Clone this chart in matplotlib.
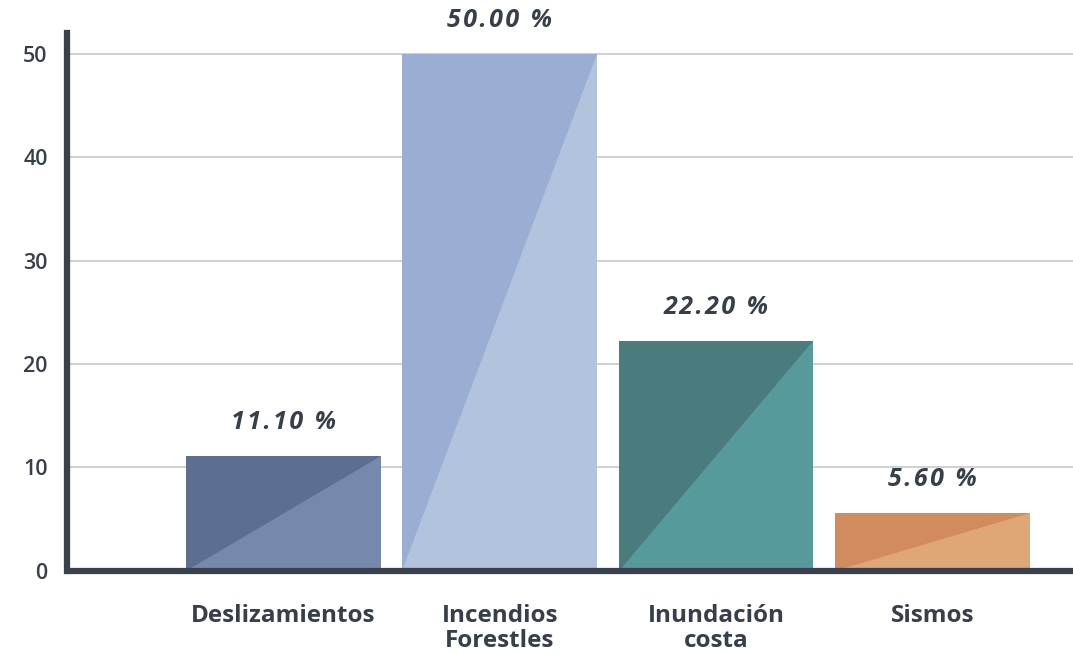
import matplotlib
matplotlib.use("Agg")
import matplotlib.pyplot as plt
import numpy as np

categories = ["Deslizamientos", "Incendios\nForestles", "Inundación\ncosta", "Sismos"]
values = [11.10, 50.00, 22.20, 5.60]
dark_colors = ["#5D6F91", "#9AAED4", "#4A7C7E", "#D28B5E"]
light_colors = ["#7689AC", "#B2C3DE", "#579A9C", "#DFA775"]
yticks = [0, 10, 20, 30, 40, 50]

text_color = "#373F4A"
axis_color = "#3A414C"

plt.rcParams["font.family"] = ["Open Sans", "DejaVu Sans"]


def tracked(s):
    # widen the letter spacing with hair spaces
    return "\u200a".join(s)


fig = plt.figure(figsize=(10.73, 6.54), dpi=100)
ax = fig.add_axes([0.0624, 0.1272, 0.9376, 0.8223])

x = np.arange(len(values))
bars = ax.bar(x, values, width=0.9, color=light_colors, zorder=2)

# darker upper-left triangle on each bar
for b, c in zip(bars, dark_colors):
    x0, x1 = b.get_x(), b.get_x() + b.get_width()
    h = b.get_height()
    ax.fill([x0, x0, x1], [0, h, h], color=c, lw=0, zorder=3)

ax.bar_label(bars, labels=[tracked("%.2f %%" % v) for v in values], padding=15,
             fontsize=18, fontweight="bold", fontstyle="italic", color=text_color)

ax.set_xlim(-1, 3.65)
ax.set_ylim(0, 52)
ax.set_yticks(yticks)
ax.set_xticks(x)
ax.set_xticklabels(categories, fontsize=17.5, fontweight="bold",
                   color=text_color, linespacing=1.05)
for t in ax.get_yticklabels():
    t.set_fontsize(15.5)
    t.set_fontweight("semibold")
    t.set_color(text_color)
ax.tick_params(axis="both", length=0)
ax.tick_params(axis="y", pad=14)
ax.tick_params(axis="x", pad=24)

ax.yaxis.grid(True, color="#C8C8C8", lw=1.2, zorder=0)
ax.set_axisbelow(True)

for s in ["top", "right"]:
    ax.spines[s].set_visible(False)
for s in ["left", "bottom"]:
    ax.spines[s].set_color(axis_color)
    ax.spines[s].set_linewidth(4.5)
    ax.spines[s].set_zorder(5)
ax.spines["bottom"].set_capstyle("butt")

fig.savefig("out.png", dpi=100)
